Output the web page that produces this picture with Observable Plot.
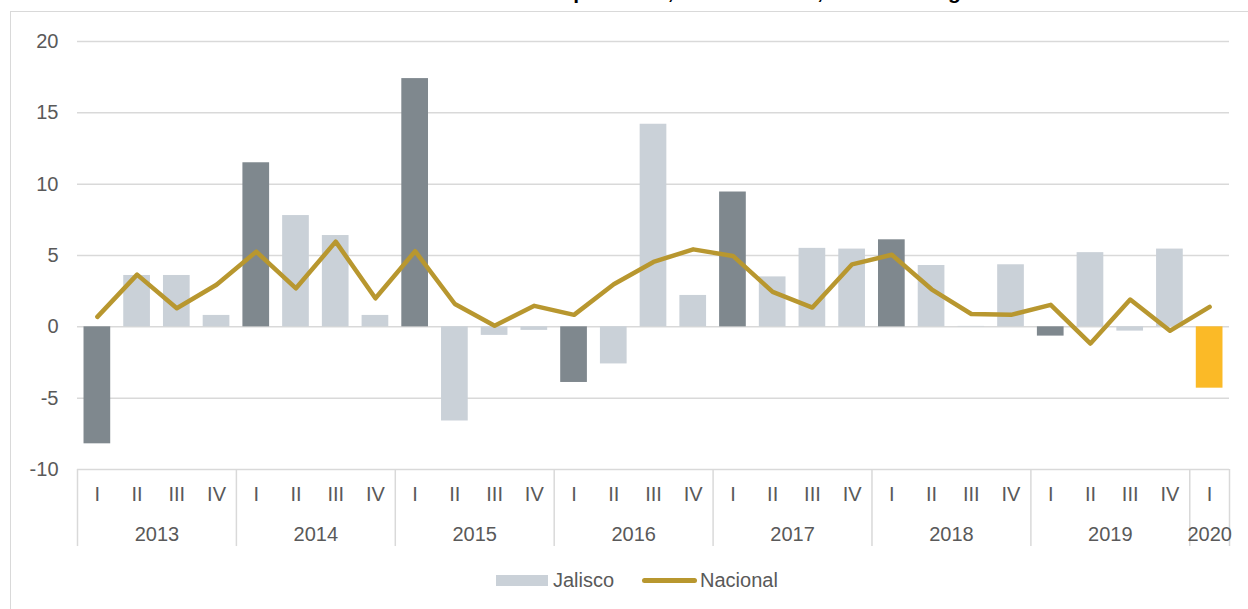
<!DOCTYPE html>
<html>
<head>
<meta charset="utf-8">
<script src="https://cdn.jsdelivr.net/npm/d3@7"></script>
<script src="https://cdn.jsdelivr.net/npm/@observablehq/plot@0.6"></script>
<style>
  html, body { margin: 0; padding: 0; background: #fff; }
  body { width: 1248px; height: 609px; overflow: hidden; position: relative; font-family: "Liberation Sans", Arial, sans-serif; }
  #title { position: absolute; top: -20px; left: 0; width: 1248px; text-align: center; font-weight: bold; font-size: 21px; line-height: 24px; color: #000; white-space: nowrap; }
  #frame { position: absolute; left: 10px; top: 11px; width: 1300px; height: 700px; border: 1.5px solid #d9d9d9; box-sizing: border-box; }
  #chart { position: absolute; left: 0; top: 0; }
  .leg { position: absolute; font-size: 20px; line-height: 20px; color: #595959; }
</style>
</head>
<body>
<div id="title">Variación anual de las actividades primarias, 2013-I - 2020-I, en cifras originales</div>
<div id="frame"></div>
<div id="chart"></div>
<div class="leg" style="left:496px; top:575px; width:52px; height:11px; background:#CAD1D8;"></div>
<div class="leg" style="left:553px; top:570px;">Jalisco</div>
<div class="leg" style="left:642px; top:578px; width:55px; height:4.5px; background:#B8972F; border-radius:3px;"></div>
<div class="leg" style="left:700px; top:570px;">Nacional</div>
<script>
const years = ["2013","2014","2015","2016","2017","2018","2019","2020"];
const quarterNames = ["I","II","III","IV"];
const quarterCounts = [4,4,4,4,4,4,4,1];
const jalisco = [-8.2, 3.6, 3.6, 0.8,
                 11.5, 7.8, 6.4, 0.8,
                 17.4, -6.6, -0.6, -0.25,
                 -3.9, -2.6, 14.2, 2.2,
                 9.45, 3.5, 5.5, 5.45,
                 6.1, 4.3, 0.03, 4.35,
                 -0.65, 5.2, -0.3, 5.45,
                 -4.3];
const nacional = [0.7, 3.66, 1.3, 2.95,
                  5.27, 2.7, 5.97, 2.0,
                  5.3, 1.6, 0.07, 1.47,
                  0.84, 2.98, 4.55, 5.43,
                  4.97, 2.45, 1.35, 4.38,
                  5.05, 2.63, 0.9, 0.84,
                  1.54, -1.17, 1.91, -0.28,
                  1.4];
const yTicks = [-10, -5, 0, 5, 10, 15, 20];

// build table
const data = [];
const yearGroups = [];
const boundaries = [-0.5];
let idx = 0;
years.forEach((yr, yi) => {
  const start = idx;
  for (let q = 0; q < quarterCounts[yi]; q++) {
    data.push({i: idx, year: yr, q: quarterNames[q], jal: jalisco[idx], nac: nacional[idx]});
    idx++;
  }
  yearGroups.push({year: yr, mid: (start + idx - 1) / 2});
  boundaries.push(idx - 0.5);
});

const colDark = "#7F888E", colLight = "#CAD1D8", colLast = "#FBBA27";
const barColor = d => d.year === "2020" ? colLast : (d.q === "I" ? colDark : colLight);
const half = 0.336;

const chart = Plot.plot({
  width: 1248,
  height: 560,
  marginLeft: 77,
  marginRight: 19,
  marginTop: 41,
  marginBottom: 91,
  x: {domain: [-0.5, 28.5], axis: null},
  y: {domain: [-10, 20], axis: null},
  color: {type: "identity"},
  style: {fontFamily: "'Liberation Sans', Arial, sans-serif", fontSize: "20px", color: "#595959", background: "transparent", overflow: "visible"},
  marks: [
    Plot.gridY(yTicks, {stroke: "#d9d9d9", strokeOpacity: 1, strokeWidth: 1.5}),
    Plot.axisY(yTicks, {tickSize: 0, tickPadding: 19, fontSize: 20, fill: "#595959", tickFormat: d => String(d)}),
    Plot.rectY(data, {x1: d => d.i - half, x2: d => d.i + half, y: "jal", fill: barColor}),
    Plot.line(data, {x: "i", y: "nac", stroke: "#B8972F", strokeWidth: 4.5, strokeLinejoin: "round", strokeLinecap: "round"}),
    Plot.ruleX(boundaries, {x: d => d, y1: -10, y2: -15.4, stroke: "#d9d9d9", strokeWidth: 1.5}),
    Plot.text(data, {x: "i", y: -10, dy: 25, text: "q", fill: "#595959", fontSize: 20}),
    Plot.text(yearGroups, {x: "mid", y: -10, dy: 65, text: "year", fill: "#595959", fontSize: 20})
  ]
});
document.getElementById("chart").appendChild(chart);
</script>
</body>
</html>
